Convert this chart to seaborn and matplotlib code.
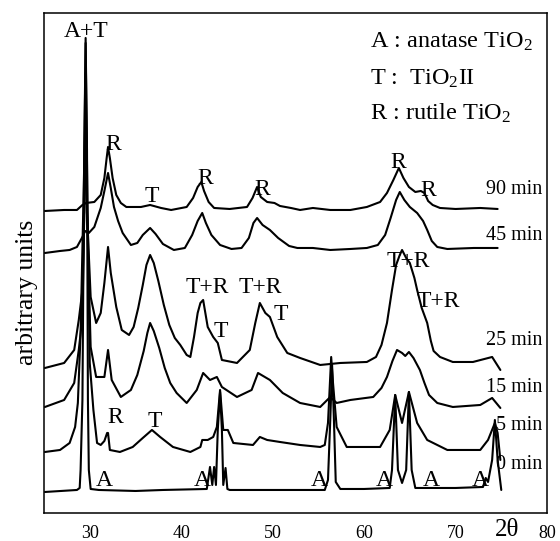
import pandas as pd
import matplotlib.pyplot as plt
import seaborn as sns

# XRD patterns: 2theta (deg) vs intensity (arbitrary, stacked)
tt_0min = [25.1, 28.6, 28.9, 29.0, 29.2, 29.4, 29.55, 29.7, 29.8, 29.9, 30.1, 31.0, 35.0, 38.0, 42.8,
           43.15, 43.4, 43.6, 43.8, 44.0, 44.25, 44.45, 44.6, 44.85, 45.05, 45.3, 50.0, 55.7,
           56.05, 56.3, 56.5, 56.7, 56.9, 57.4, 60.0, 62.8, 63.05, 63.4, 63.7, 64.15, 64.6, 64.9,
           65.2, 65.6, 70.0, 73.0, 73.3, 73.55, 74.0, 74.3, 74.6, 75.0]
int_0min = [21, 23, 25, 43, 113, 363, 475, 363, 113, 43, 24, 23, 22, 23, 24,
            46, 28, 46, 28, 83, 121, 83, 28, 45, 24, 23, 23, 23,
            33, 93, 148, 93, 31, 24, 24, 25, 43, 118, 43, 30, 43, 121,
            43, 25, 25, 26, 35, 31, 53, 93, 53, 23]

tt_5min = [25.1, 26.75, 27.8, 28.4, 28.7, 29.0, 29.4, 29.55, 29.7, 30.0, 30.4, 30.8, 31.2, 31.6,
           31.9, 32.0, 32.2, 33.3, 34.7, 35.8, 36.8, 37.7, 39.1, 41.0, 42.1, 42.3, 42.9, 43.5,
           43.9, 44.25, 44.6, 45.1, 45.7, 47.85, 48.6, 49.4, 50.8, 53.0, 55.2, 55.7, 56.05, 56.4,
           56.6, 57.0, 58.1, 61.75, 62.8, 63.4, 64.15, 64.9, 65.8, 66.9, 69.1, 72.7, 73.55, 74.3,
           74.6, 74.9]
int_5min = [61, 63, 70, 86, 110, 180, 350, 470, 350, 150, 103, 70, 68, 72,
            80, 80, 63, 61, 66, 75, 83, 76, 66, 61, 66, 73, 73, 76,
            86, 123, 83, 83, 70, 68, 76, 73, 71, 68, 66, 68, 90, 156,
            130, 86, 66, 66, 83, 118, 90, 121, 90, 73, 63, 63, 73, 90,
            80, 53]

tt_15min = [25.1, 27.2, 28.3, 28.8, 29.2, 29.4, 29.55, 29.7, 30.1, 30.7, 31.6, 32.0, 32.4, 33.4,
            34.5, 35.2, 35.9, 36.3, 36.6, 37.0, 37.6, 38.2, 38.8, 39.5, 40.6, 41.7, 42.4, 43.15,
            43.9, 44.45, 46.1, 47.7, 48.4, 49.7, 51.1, 53.0, 55.2, 56.3, 57.0, 58.5, 61.0, 61.9,
            62.5, 63.1, 63.6, 64.15, 64.5, 64.9, 65.4, 66.1, 66.6, 67.1, 68.0, 69.7, 72.7, 74.0,
            74.9]
int_15min = [106, 113, 130, 163, 196, 300, 440, 300, 166, 136, 136, 163, 133, 116,
             123, 138, 162, 180, 190, 182, 165, 145, 130, 120, 110, 123, 140, 133,
             136, 126, 116, 123, 140, 133, 120, 110, 106, 116, 110, 113, 116, 125,
             136, 152, 163, 160, 157, 161, 155, 143, 130, 118, 110, 106, 108, 115,
             105]

tt_25min = [25.1, 27.2, 28.3, 28.8, 29.2, 29.4, 29.55, 29.7, 30.1, 30.7, 31.2, 31.6, 32.0, 32.3,
            32.9, 33.5, 34.3, 34.8, 35.3, 35.8, 36.2, 36.6, 37.0, 37.5, 38.1, 38.7, 39.3, 39.9,
            40.6, 41.0, 41.4, 41.8, 42.1, 42.4, 42.9, 43.5, 44.0, 44.45, 46.1, 47.5, 48.1, 48.6,
            49.2, 49.7, 50.5, 51.6, 53.0, 55.2, 57.4, 60.3, 61.3, 61.9, 62.5, 63.05, 63.5, 63.9,
            64.15, 64.6, 65.0, 65.5, 65.8, 66.3, 66.9, 67.3, 67.6, 68.3, 69.7, 71.9, 74.0, 74.9]
int_25min = [145, 150, 163, 193, 223, 300, 410, 300, 216, 190, 200, 230, 266, 240,
             206, 183, 178, 186, 205, 228, 248, 258, 250, 232, 208, 188, 175, 168,
             158, 156, 176, 200, 210, 213, 186, 176, 170, 153, 150, 163, 190, 210,
             200, 196, 176, 160, 155, 148, 150, 151, 156, 168, 190, 223, 248, 258,
             263, 255, 250, 235, 223, 205, 190, 172, 162, 156, 151, 151, 156, 143]

tt_45min = [25.1, 26.75, 27.8, 28.6, 29.2, 29.5, 29.9, 30.5, 31.2, 31.6, 32.0, 32.3, 32.65, 33.1,
            33.6, 34.5, 35.2, 35.8, 36.6, 37.2, 38.0, 39.2, 40.4, 41.2, 41.8, 42.3, 42.7, 43.3,
            44.25, 45.5, 46.6, 47.4, 47.9, 48.3, 48.9, 49.7, 50.6, 51.8, 52.7, 54.4, 56.3, 58.5,
            60.3, 61.5, 62.3, 62.9, 63.5, 63.9, 64.4, 65.0, 65.8, 66.45, 66.9, 67.4, 68.0, 69.1,
            72.0, 74.6]
int_45min = [260, 262, 263, 266, 276, 282, 280, 286, 305, 322, 340, 325, 306, 292,
             280, 268, 270, 278, 285, 279, 269, 263, 265, 278, 292, 300, 290, 278,
             268, 264, 265, 275, 290, 295, 288, 283, 275, 267, 265, 265, 263, 264,
             265, 268, 278, 295, 313, 321, 313, 306, 300, 292, 283, 272, 266, 264,
             265, 265]

tt_90min = [25.1, 27.2, 28.6, 29.2, 29.6, 30.5, 31.2, 31.6, 31.85, 32.0, 32.2, 32.5, 32.9, 33.4,
            34.0, 35.6, 36.6, 37.8, 38.9, 40.6, 41.3, 41.8, 42.2, 42.5, 43.0, 43.6, 45.3, 47.2,
            47.8, 48.3, 48.7, 49.4, 50.2, 50.8, 52.0, 53.0, 54.4, 56.3, 58.5, 60.3, 61.75, 62.5,
            63.2, 63.8, 64.3, 64.9, 65.6, 66.2, 66.6, 67.0, 67.5, 68.3, 70.0, 72.7, 74.6]
int_90min = [302, 303, 303, 308, 310, 311, 318, 335, 355, 366, 355, 335, 318, 310,
             306, 306, 308, 305, 303, 306, 315, 326, 331, 322, 311, 305, 304, 306,
             315, 326, 316, 311, 310, 307, 305, 303, 305, 303, 303, 306, 311, 320,
             333, 345, 335, 326, 321, 322, 320, 312, 308, 305, 304, 305, 304]

times = ['0 min', '5 min', '15 min', '25 min', '45 min', '90 min']
time_label_y = [48, 87, 125, 172, 277, 323]

peak_labels = ['A+T', 'R', 'T', 'R', 'R', 'R', 'R',
               'T+R', 'T+R', 'T', 'T', 'T+R', 'T+R',
               'R', 'T', 'A', 'A', 'A', 'A', 'A', 'A']
peak_label_x = [29.6, 32.55, 36.8, 42.6, 48.85, 63.7, 67.0,
                42.9, 48.6, 44.35, 50.9, 64.8, 68.1,
                32.75, 37.1, 31.55, 42.3, 55.1, 62.2, 67.3, 72.7]
peak_label_y = [481, 368, 316, 334, 323, 350, 322,
                225, 225, 181, 198, 251, 211,
                95, 91, 32, 32, 32, 32, 32, 32]

legend_lines = [r'A : anatase TiO$_\mathregular{2}$',
                r'T :  TiO$_\mathregular{2}$II',
                r'R : rutile TiO$_\mathregular{2}$']
legend_y = [465, 428, 393]

frames = []
for t, xs, ys in zip(times,
                     [tt_0min, tt_5min, tt_15min, tt_25min, tt_45min, tt_90min],
                     [int_0min, int_5min, int_15min, int_25min, int_45min, int_90min]):
    frames.append(pd.DataFrame({'two_theta': xs, 'intensity': ys, 'time': t}))
df = pd.concat(frames, ignore_index=True)

sns.set_style('white', {'text.color': 'black', 'axes.edgecolor': 'black',
                        'xtick.color': 'black', 'axes.labelcolor': 'black'})
plt.rcParams['font.family'] = ['Liberation Serif', 'DejaVu Serif']
plt.rcParams['mathtext.fontset'] = 'custom'
plt.rcParams['mathtext.rm'] = 'Liberation Serif'
plt.rcParams['mathtext.it'] = 'Liberation Serif:italic'

fig = plt.figure(figsize=(5.6, 5.41), dpi=100)
ax = fig.add_axes([0.0786, 0.0518, 0.8982, 0.9242])

sns.lineplot(data=df, x='two_theta', y='intensity', hue='time', palette=['black'] * 6,
             sort=False, estimator=None, legend=False, lw=1.5, ax=ax)

ax.set_xlim(25, 80)
ax.set_ylim(0, 500)
ax.set_xticks([30, 40, 50, 60, 70, 80])
ax.set_xticks([26, 28, 32, 34, 36, 38, 42, 44, 46, 48, 52, 54, 56, 58,
               62, 64, 66, 68, 72, 74, 76, 78], minor=True)
ax.set_yticks([])
ax.tick_params(axis='x', which='major', direction='in', length=7, width=1, pad=9, labelsize=13)
ax.tick_params(axis='x', which='minor', direction='in', length=4, width=1)
ax.set_xlabel('')
ax.set_ylabel('')
for s in ax.spines.values():
    s.set_linewidth(1.1)
    s.set_color('black')

for txt, x, y in zip(peak_labels, peak_label_x, peak_label_y):
    ax.text(x, y, txt, ha='center', va='center', fontsize=17)

for txt, y in zip(times, time_label_y):
    ax.text(79.5, y, txt, ha='right', va='center', fontsize=14.5)

for txt, y in zip(legend_lines, legend_y):
    ax.text(60.65, y, txt, ha='left', va='baseline', fontsize=17.5)

ax.text(75.6, -0.035, '2θ', transform=ax.get_xaxis_transform(), ha='center', va='center',
        fontsize=18)
fig.text(27 / 560, 1 - 292 / 541, 'arbitrary units', rotation=90, ha='center', va='center',
         fontsize=18.5)

fig.savefig('out.png', dpi=100)
